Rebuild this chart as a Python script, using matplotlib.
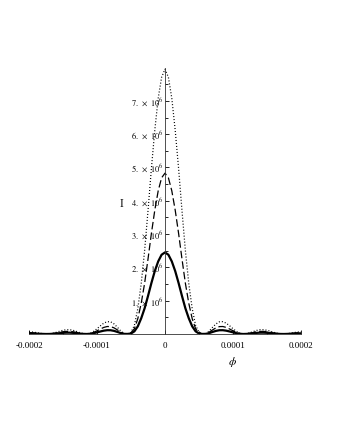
import matplotlib
matplotlib.use("Agg")
import matplotlib.pyplot as plt
import numpy as np

plt.rcParams['font.family'] = ['Liberation Serif', 'DejaVu Serif']
plt.rcParams['mathtext.fontset'] = 'stix'

# phi >= 0 half of the pattern (the picture is symmetric about phi = 0)
phi_half = [0.0, 0.5e-5, 1.0e-5, 1.5e-5, 2.0e-5, 2.5e-5, 3.0e-5, 3.5e-5, 4.0e-5,
            4.5e-5, 5.0e-5, 5.5e-5, 6.0e-5, 6.5e-5, 7.0e-5, 7.5e-5, 8.0e-5,
            8.5e-5, 9.0e-5, 9.5e-5, 10.0e-5, 10.5e-5, 11.0e-5, 11.5e-5, 12.0e-5,
            12.5e-5, 13.0e-5, 13.5e-5, 14.0e-5, 14.5e-5, 15.0e-5, 15.5e-5,
            16.0e-5, 16.5e-5, 17.0e-5, 17.5e-5, 18.0e-5, 18.5e-5, 19.0e-5,
            19.5e-5, 20.0e-5]

# intensities in units of 1e6
I_solid = [2.45, 2.38, 2.18, 1.89, 1.53, 1.14, 0.77, 0.47, 0.23, 0.08, 0.015,
           0.002, 0.004, 0.027, 0.062, 0.094, 0.113, 0.114, 0.100, 0.076,
           0.049, 0.024, 0.007, 0.000, 0.003, 0.012, 0.024, 0.034, 0.040,
           0.040, 0.035, 0.025, 0.015, 0.007, 0.001, 0.000, 0.003, 0.008,
           0.013, 0.018, 0.020]
I_dashed = [4.83, 4.69, 4.30, 3.72, 3.02, 2.25, 1.52, 0.92, 0.46, 0.16, 0.03,
            0.005, 0.005, 0.054, 0.123, 0.185, 0.222, 0.225, 0.198, 0.150,
            0.096, 0.048, 0.014, 0.000, 0.005, 0.024, 0.046, 0.066, 0.078,
            0.078, 0.068, 0.050, 0.030, 0.014, 0.002, 0.000, 0.005, 0.015,
            0.027, 0.036, 0.040]
I_dotted = [7.95, 7.71, 7.08, 6.12, 4.97, 3.70, 2.50, 1.51, 0.76, 0.26, 0.05,
            0.008, 0.009, 0.088, 0.203, 0.304, 0.366, 0.370, 0.326, 0.247,
            0.158, 0.079, 0.023, 0.001, 0.009, 0.039, 0.076, 0.109, 0.129,
            0.129, 0.112, 0.083, 0.050, 0.022, 0.004, 0.000, 0.009, 0.025,
            0.044, 0.059, 0.066]

x_ticks = [-0.0002, -0.0001, 0, 0.0001, 0.0002]
x_ticklabels = ['-0.0002', '-0.0001', '0', '0.0001', '0.0002']
y_ticks = [1, 2, 3, 4, 5, 6, 7]


def mirror(v):
    v = np.asarray(v)
    return np.concatenate([v[:0:-1], v])


phi = np.concatenate([-np.asarray(phi_half)[:0:-1], phi_half])

fig = plt.figure(figsize=(3.37, 4.36), dpi=100)
ax = fig.add_axes([29 / 337, 102 / 436, 272 / 337, 266.4 / 436])

ax.plot(phi, mirror(I_dotted) * 1e6, color='black', lw=0.9, ls=(0, (0.8, 1.6)))
ax.plot(phi, mirror(I_dashed) * 1e6, color='black', lw=0.9, ls=(0, (6, 2.5)))
ax.plot(phi, mirror(I_solid) * 1e6, color='black', lw=1.6)

ax.set_xlim(-0.0002, 0.0002)
ax.set_ylim(0, 8e6)

ax.spines['left'].set_position(('data', 0))
ax.spines['bottom'].set_position(('data', 0))
ax.spines['top'].set_visible(False)
ax.spines['right'].set_visible(False)
for s in ('left', 'bottom'):
    ax.spines[s].set_linewidth(0.6)
    ax.spines[s].set_color('#333333')

ax.set_xticks(x_ticks)
ax.set_xticklabels(x_ticklabels, fontsize=6.5)
ax.set_xticks(np.arange(-0.0002, 0.00021, 0.00005), minor=True)
ax.set_yticks([v * 1e6 for v in y_ticks])
ax.set_yticklabels([r'$%d.\ \times\ 10^{6}$' % v for v in y_ticks], fontsize=6)
ax.set_yticks(np.arange(0.5e6, 8e6, 0.5e6), minor=True)
ax.tick_params(axis='x', which='both', direction='in', length=3, width=0.6, pad=6)
ax.tick_params(axis='y', which='both', direction='in', length=3, width=0.6, pad=1)
ax.tick_params(which='minor', length=2)

ax.text(-0.0000637, 3.9e6, 'I', fontsize=8.5, ha='center', va='center')
ax.text(0.0001, -0.85e6, r'$\phi$', fontsize=8.5, ha='center', va='center')

fig.savefig('out.png', dpi=100)
